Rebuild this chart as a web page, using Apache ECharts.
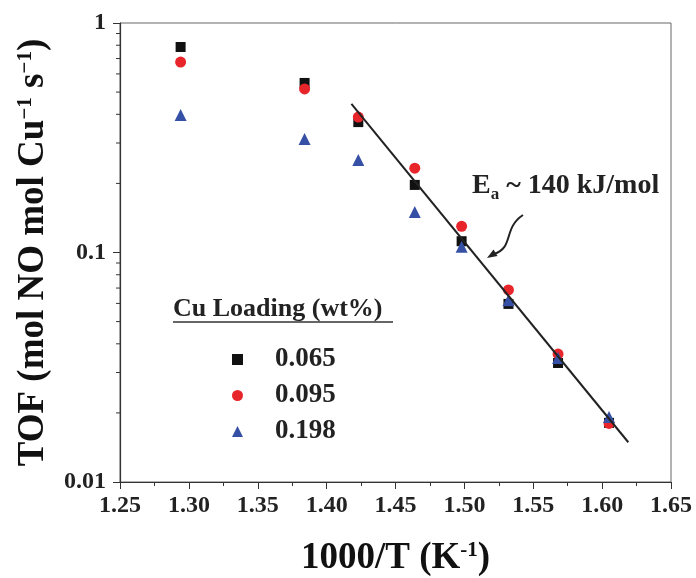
<!DOCTYPE html>
<html><head><meta charset="utf-8">
<script src="https://cdn.jsdelivr.net/npm/echarts@6/dist/echarts.min.js"></script>
<style>html,body{margin:0;padding:0;background:#fff}#c{width:696px;height:578px}</style>
</head><body><div id="c"></div>
<script>
// ---- data ----
const xTicks = [1.25, 1.30, 1.35, 1.40, 1.45, 1.50, 1.55, 1.60, 1.65];
const yTickLabels = ['0.01', '0.1', '1'];
const invT = [1.294, 1.384, 1.423, 1.464, 1.498, 1.532, 1.568, 1.605];
const tof065 = [0.786, 0.548, 0.370, 0.197, 0.112, 0.0597, 0.0330, 0.0181];
const tof095 = [0.676, 0.516, 0.389, 0.233, 0.130, 0.0687, 0.0361, 0.0180];
const tof198 = [0.397, 0.312, 0.253, 0.150, 0.106, 0.0620, 0.0347, 0.0192];
const fitX = [1.418, 1.619];
const fitY = [0.444, 0.0149];
const seriesNames = ['0.065', '0.095', '0.198'];
const yMinorTicks = [0.02,0.03,0.04,0.05,0.06,0.07,0.08,0.09,0.2,0.3,0.4,0.5,0.6,0.7,0.8,0.9];

const FONT = '"Liberation Serif", "Times New Roman", serif';
const pairs = (xs, ys) => xs.map((x, i) => [x, ys[i]]);

const chart = echarts.init(document.getElementById('c'), null, {renderer: 'canvas'});
chart.setOption({
  animation: false,
  backgroundColor: '#fff',
  grid: {left: 120, right: 25, top: 23, bottom: 96, show: true, borderColor: '#666', borderWidth: 1,
    containLabel: false, outerBoundsMode: 'none'},
  xAxis: {
    type: 'value', min: 1.25, max: 1.65, interval: 0.05,
    name: '1000/T (K{sup|-1})', nameLocation: 'middle', nameGap: 58,
    nameTextStyle: {fontFamily: FONT, fontWeight: 'bold', fontSize: 37, color: '#111',
      rich: {sup: {fontFamily: FONT, fontWeight: 'bold', fontSize: 21, color: '#111', verticalAlign: 'top', lineHeight: 37}}},
    axisLine: {lineStyle: {color: '#333', width: 1.2}},
    axisTick: {inside: false, length: 7, lineStyle: {color: '#333'}},
    minorTick: {show: true, splitNumber: 2, length: 4, lineStyle: {color: '#333'}},
    splitLine: {show: false},
    axisLabel: {fontFamily: FONT, fontWeight: 'bold', fontSize: 24, color: '#222', margin: 12,
      formatter: v => xTicks.some(t => Math.abs(t - v) < 1e-9) ? v.toFixed(2) : ''}
  },
  yAxis: {
    type: 'log', logBase: 10, min: 0.01, max: 1,
    name: 'TOF (mol NO mol Cu{sup|−1} s{sup|−1})', nameLocation: 'middle', nameGap: 68,
    nameTextStyle: {fontFamily: FONT, fontWeight: 'bold', fontSize: 37, color: '#111',
      rich: {sup: {fontFamily: FONT, fontWeight: 'bold', fontSize: 21, color: '#111', verticalAlign: 'top', lineHeight: 37}}},
    axisLine: {show: true, lineStyle: {color: '#333', width: 1.2}},
    axisTick: {inside: false, length: 7, lineStyle: {color: '#333'}},
    splitLine: {show: false},
    axisLabel: {fontFamily: FONT, fontWeight: 'bold', fontSize: 24, color: '#222', margin: 14,
      formatter: v => { const s = String(+v.toPrecision(3)); return yTickLabels.includes(s) ? s : ''; }}
  },
  legend: {
    orient: 'vertical', left: 227, top: 341, itemWidth: 11, itemHeight: 11, itemGap: 9,
    data: seriesNames,
    textStyle: {fontFamily: FONT, fontWeight: 'bold', fontSize: 27, color: '#222', lineHeight: 26, padding: [0, 0, 0, 27]}
  },
  series: [
    {name: '0.065', type: 'scatter', symbol: 'rect', symbolSize: 10, itemStyle: {color: '#111', opacity: 1}, data: pairs(invT, tof065), z: 3},
    {name: '0.095', type: 'scatter', symbol: 'circle', symbolSize: 11, itemStyle: {color: '#e8252b', opacity: 1}, data: pairs(invT, tof095), z: 3},
    {name: '0.198', type: 'scatter', symbol: 'triangle', symbolSize: 12, itemStyle: {color: '#3550a5', opacity: 1}, data: pairs(invT, tof198), z: 3},
    {name: 'fit', type: 'line', data: pairs(fitX, fitY), symbol: 'none', lineStyle: {color: '#222', width: 2}, z: 4, silent: true},
    {name: 'minor', type: 'custom', silent: true, clip: false, data: yMinorTicks.map(v => [1.25, v]),
      encode: {x: 0, y: 1},
      renderItem: (params, api) => {
        const p = api.coord([api.value(0), api.value(1)]);
        return {type: 'line', shape: {x1: p[0] - 4, y1: p[1], x2: p[0], y2: p[1]}, style: {stroke: '#333', lineWidth: 1}};
      }}
  ],
  graphic: [
    {type: 'text', left: 173, top: 296, style: {text: 'Cu Loading (wt%)', font: 'bold 26px ' + FONT, fill: '#222'}},
    {type: 'line', shape: {x1: 173, y1: 322, x2: 393, y2: 322}, style: {stroke: '#333', lineWidth: 1.5}},
    {type: 'text', left: 472, top: 172, style: {
      text: 'E{sub|a} ~ 140 kJ/mol', font: 'bold 28px ' + FONT, fill: '#222',
      rich: {sub: {font: 'bold 17px ' + FONT, fill: '#222', verticalAlign: 'bottom', lineHeight: 34}}}},
    {type: 'bezierCurve', shape: {x1: 523, y1: 215, cpx1: 503, cpy1: 228, cpx2: 514, cpy2: 248, x2: 494, y2: 254},
      style: {stroke: '#222', lineWidth: 2, fill: null}},
    {type: 'polygon', shape: {points: [[487, 258], [497.5, 256], [493.5, 249.5]]}, style: {fill: '#222'}}
  ]
});
</script></body></html>
